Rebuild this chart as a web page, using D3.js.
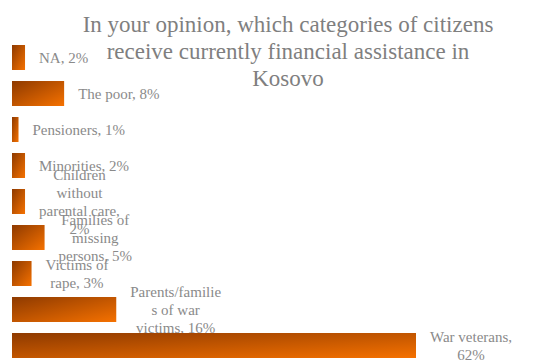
<!DOCTYPE html>
<html>
<head>
<meta charset="utf-8">
<script src="https://cdn.jsdelivr.net/npm/d3@7"></script>
<style>
  html, body { margin: 0; padding: 0; background: #fff; }
  svg { display: block; }
</style>
</head>
<body>
<svg id="chart" width="546" height="360"></svg>
<script>
// Survey categories, top to bottom
const categories = [
  "NA", "The poor", "Pensioners", "Minorities",
  "Children without parental care", "Families of missing persons",
  "Victims of rape", "Parents/families of war victims", "War veterans"
];
// Share of respondents (%)
const values = [2, 8, 1, 2, 2, 5, 3, 16, 62];
// Data label text, already broken into lines
const labelLines = [
  ["NA, 2%"],
  ["The poor, 8%"],
  ["Pensioners, 1%"],
  ["Minorities, 2%"],
  ["Children", "without", "parental care,", "2%"],
  ["Families of", "missing", "persons, 5%"],
  ["Victims of", "rape, 3%"],
  ["Parents/familie", "s of war", "victims, 16%"],
  ["War veterans,", "62%"]
];
const titleLines = [
  "In your opinion, which categories of citizens",
  "receive currently financial assistance in",
  "Kosovo"
];

const svg = d3.select("#chart");
const font = "'Liberation Serif', 'Times New Roman', serif";

const x = d3.scaleLinear().domain([0, 62]).range([12, 416]);
const y = d3.scaleBand()
  .domain(categories)
  .range([39.5, 363.5])
  .paddingInner(0.306)
  .paddingOuter(0.153);

// Diagonal dark-to-bright orange fill
const defs = svg.append("defs");
const grad = defs.append("linearGradient")
  .attr("id", "barFill")
  .attr("x1", 0).attr("y1", 0).attr("x2", 1).attr("y2", 1);
grad.append("stop").attr("offset", "0%").attr("stop-color", "#8e3a00");
grad.append("stop").attr("offset", "100%").attr("stop-color", "#f57100");

// Title
svg.append("g").selectAll("text")
  .data(titleLines)
  .join("text")
  .attr("x", 288)
  .attr("y", (d, i) => 32 + i * 27)
  .attr("text-anchor", "middle")
  .attr("font-family", font)
  .attr("font-size", 23)
  .attr("fill", "#7f7f7f")
  .text(d => d);

// Data labels (drawn beneath the bars)
const lineH = 18;
const labels = svg.append("g");
categories.forEach((c, i) => {
  const lines = labelLines[i];
  const g = labels.append("g");
  const t = g.append("text")
    .attr("font-family", font)
    .attr("font-size", 15)
    .attr("fill", "#8a8a8a")
    .attr("text-anchor", "middle");
  const cy = y(c) + y.bandwidth() / 2;
  const top = cy - (lines.length - 1) * lineH / 2;
  const spans = lines.map((l, j) => t.append("tspan")
    .attr("y", top + j * lineH)
    .attr("dy", "0.35em")
    .text(l));
  const w = d3.max(spans, s => s.node().getComputedTextLength());
  const cx = x(values[i]) + 14 + w / 2;
  spans.forEach(s => s.attr("x", cx));
});

// Bars
svg.append("g").selectAll("rect")
  .data(values)
  .join("rect")
  .attr("x", x(0))
  .attr("y", (d, i) => y(categories[i]))
  .attr("width", d => x(d) - x(0))
  .attr("height", y.bandwidth())
  .attr("fill", "url(#barFill)");
</script>
</body>
</html>
